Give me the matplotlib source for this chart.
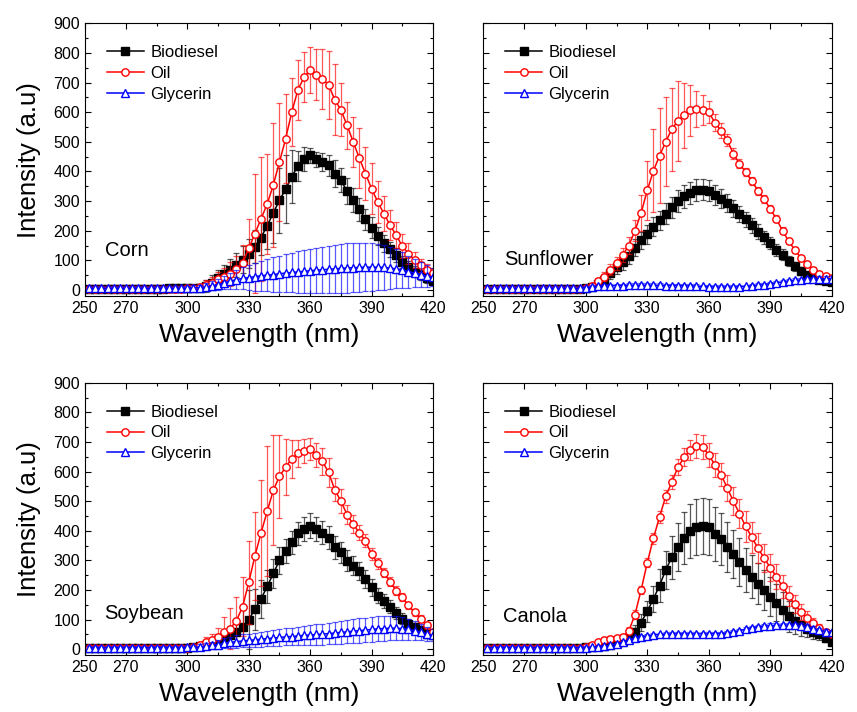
import numpy as np
import matplotlib
matplotlib.use("Agg")
import matplotlib.pyplot as plt
from matplotlib.ticker import MultipleLocator, FixedLocator

plt.rcParams["font.family"] = ["Liberation Sans", "DejaVu Sans"]

# wavelength grid (nm), one reading every 3 nm
wavelength = np.arange(252, 421, 3)

base3 = [3] * 16
base5 = [5] * 16

# ---- Corn ----
corn_bio = base3[:9] + [4, 4, 4, 4, 5, 5, 5] + [
    6, 7, 8, 14, 25, 40, 55, 68, 85, 102, 123, 146, 177, 217, 260, 303, 340, 382, 419, 441,
    455, 441, 432, 421, 393, 370, 334, 303, 272, 239, 210, 182, 157, 137, 118, 95, 79, 62, 51, 39, 30]
corn_bio_err = base5 + [
    6, 8, 12, 20, 25, 28, 30, 35, 40, 45, 50, 55, 60, 80, 100, 110, 115, 90, 50, 40,
    25, 25, 30, 35, 45, 40, 45, 40, 40, 35, 35, 30, 28, 25, 22, 20, 20, 18, 16, 15, 12]
corn_oil = [2] * 8 + [3] * 5 + [4] * 3 + [
    5, 6, 10, 17, 25, 36, 45, 55, 70, 92, 140, 190, 240, 290, 355, 432, 510, 600, 675, 718,
    743, 727, 712, 692, 642, 608, 556, 500, 445, 393, 342, 297, 258, 219, 185, 148, 123, 101, 84, 66, 56]
corn_oil_err = base5 + [
    6, 8, 10, 15, 20, 25, 30, 40, 45, 60, 100, 200, 210, 170, 210, 200, 150, 115, 100, 85,
    78, 85, 100, 115, 120, 90, 80, 85, 100, 90, 85, 70, 60, 50, 45, 40, 35, 28, 22, 20, 18]
corn_gly = [6] * 16 + [
    6, 7, 8, 10, 14, 18, 24, 30, 35, 39, 42, 45, 48, 50, 52, 55, 57, 59, 61, 63,
    65, 67, 68, 70, 71, 73, 74, 75, 76, 77, 77, 77, 76, 74, 71, 67, 62, 57, 52, 47, 43]
corn_gly_err = [8] * 16 + [
    8, 9, 10, 12, 15, 18, 22, 27, 32, 37, 42, 47, 51, 55, 58, 61, 64, 67, 70, 72,
    74, 76, 78, 80, 81, 82, 83, 83, 83, 82, 80, 78, 75, 71, 66, 60, 54, 48, 42, 36, 30]

# ---- Sunflower ----
sun_bio = base3 + [
    5, 10, 20, 35, 57, 76, 93, 115, 143, 167, 188, 214, 235, 257, 279, 299, 316, 328, 336, 338,
    335, 321, 308, 293, 275, 257, 238, 218, 197, 178, 158, 136, 119, 97, 80, 64, 50, 40, 34, 31, 28]
sun_bio_err = [4] * 16 + [
    6, 10, 15, 18, 20, 22, 25, 28, 30, 30, 32, 32, 33, 35, 35, 37, 38, 38, 37, 36,
    35, 34, 32, 30, 28, 27, 26, 25, 24, 22, 20, 20, 18, 16, 15, 14, 12, 10, 10, 9, 8]
sun_oil = [2] * 8 + [3] * 5 + [4] * 3 + [
    5, 15, 30, 45, 68, 90, 118, 150, 200, 260, 336, 402, 453, 500, 543, 571, 590, 606, 610, 608,
    600, 565, 538, 506, 460, 426, 398, 368, 335, 307, 274, 240, 200, 165, 135, 108, 86, 68, 55, 47, 42]
sun_oil_err = [4] * 16 + [
    6, 10, 12, 15, 18, 22, 25, 30, 35, 60, 100, 140, 160, 150, 140, 135, 110, 85, 60, 50,
    38, 30, 25, 20, 18, 16, 15, 14, 13, 12, 12, 12, 11, 10, 10, 9, 9, 8, 8, 8, 8]
sun_gly = [6] * 16 + [
    8, 10, 12, 13, 14, 15, 15, 16, 16, 16, 16, 16, 16, 15, 15, 15, 14, 14, 13, 12,
    11, 10, 10, 10, 10, 11, 12, 14, 16, 18, 21, 24, 27, 30, 32, 34, 36, 37, 38, 38, 38]
sun_gly_err = [6] * 16 + [6] * 30 + [7, 7, 7, 8, 8, 8, 8, 8, 8, 8, 8]

# ---- Soybean ----
soy_bio = base3 + [
    5, 7, 10, 15, 22, 32, 42, 48, 58, 75, 100, 135, 170, 212, 256, 300, 331, 361, 391, 405,
    417, 405, 394, 377, 344, 327, 299, 282, 265, 237, 209, 181, 164, 144, 122, 103, 86, 75, 64, 53, 47]
soy_bio_err = base5 + [
    6, 8, 10, 12, 15, 18, 22, 28, 35, 60, 100, 70, 65, 55, 50, 45, 40, 38, 38, 40,
    42, 40, 40, 40, 38, 35, 35, 32, 30, 30, 28, 26, 24, 22, 20, 18, 16, 15, 14, 12, 10]
soy_oil = base3 + [
    5, 8, 15, 25, 33, 42, 58, 70, 97, 144, 226, 315, 393, 466, 537, 584, 615, 643, 662, 670,
    676, 657, 634, 597, 539, 500, 455, 422, 394, 366, 321, 290, 259, 228, 198, 176, 148, 125, 103, 81, 58]
soy_oil_err = base5 + [
    6, 8, 10, 15, 20, 30, 50, 70, 80, 100, 140, 150, 180, 220, 185, 140, 95, 65, 45, 40,
    38, 40, 45, 50, 40, 40, 32, 30, 25, 22, 20, 18, 16, 15, 14, 13, 12, 12, 12, 12, 12]
soy_gly = base5 + [
    6, 7, 8, 10, 13, 16, 20, 23, 26, 28, 30, 32, 34, 36, 38, 40, 42, 43, 45, 47,
    48, 50, 51, 53, 55, 57, 59, 61, 63, 65, 67, 69, 70, 71, 71, 70, 67, 63, 58, 52, 47]
soy_gly_err = [6] * 16 + [
    7, 8, 9, 11, 13, 15, 17, 19, 21, 22, 23, 24, 25, 26, 27, 28, 29, 30, 31, 32,
    33, 34, 35, 36, 37, 38, 39, 40, 41, 42, 42, 42, 42, 41, 40, 38, 35, 32, 28, 24, 20]

# ---- Canola ----
can_bio = base3[:11] + [4, 4, 4, 5, 5] + [
    6, 8, 10, 12, 15, 20, 27, 38, 60, 90, 128, 170, 215, 268, 310, 345, 375, 400, 413, 416,
    412, 390, 372, 345, 322, 295, 268, 245, 222, 200, 178, 157, 134, 112, 95, 82, 70, 60, 50, 38, 25]
can_bio_err = [4] * 16 + [
    5, 6, 7, 8, 10, 12, 15, 18, 22, 28, 35, 45, 55, 65, 72, 80, 88, 92, 95, 95,
    95, 92, 88, 85, 82, 80, 75, 72, 70, 68, 65, 62, 58, 52, 45, 38, 30, 24, 18, 14, 10]
can_oil = base3 + [
    8, 15, 25, 32, 36, 37, 40, 62, 117, 200, 292, 375, 447, 516, 565, 615, 648, 673, 686, 683,
    656, 623, 590, 545, 500, 458, 415, 378, 342, 308, 276, 245, 212, 180, 152, 126, 106, 88, 72, 58, 50]
can_oil_err = [4] * 16 + [
    5, 6, 7, 8, 8, 8, 10, 12, 15, 15, 15, 18, 20, 22, 25, 28, 30, 35, 40, 42,
    42, 40, 40, 45, 48, 50, 52, 52, 50, 48, 45, 42, 38, 35, 30, 26, 22, 18, 15, 12, 10]
can_gly = base5 + [
    5, 6, 8, 10, 14, 18, 24, 32, 38, 42, 45, 48, 50, 51, 52, 52, 52, 52, 52, 52,
    52, 53, 53, 55, 58, 63, 68, 73, 76, 78, 80, 81, 82, 82, 82, 80, 76, 70, 65, 60, 57]
can_gly_err = base5 + [6] * 15 + [7] * 15 + [8] * 11

panels = [
    ("Corn", corn_bio, corn_bio_err, corn_oil, corn_oil_err, corn_gly, corn_gly_err, 0.058, 0.165),
    ("Sunflower", sun_bio, sun_bio_err, sun_oil, sun_oil_err, sun_gly, sun_gly_err, 0.059, 0.132),
    ("Soybean", soy_bio, soy_bio_err, soy_oil, soy_oil_err, soy_gly, soy_gly_err, 0.055, 0.154),
    ("Canola", can_bio, can_bio_err, can_oil, can_oil_err, can_gly, can_gly_err, 0.057, 0.141),
]

fig = plt.figure(figsize=(8.57, 7.12), dpi=100)
rects = [
    [85 / 857, 1 - 295.9 / 712, 348 / 857, 272.6 / 712],
    [483.3 / 857, 1 - 295.9 / 712, 348.4 / 857, 272.6 / 712],
    [85 / 857, 1 - 655.2 / 712, 348 / 857, 272.5 / 712],
    [483.3 / 857, 1 - 655.2 / 712, 348.4 / 857, 272.5 / 712],
]

series_style = [
    ("Biodiesel", "black", "s", "black"),
    ("Oil", "red", "o", "white"),
    ("Glycerin", "blue", "^", "white"),
]

for i, (name, b, be, o, oe, g, ge, tx, ty) in enumerate(panels):
    ax = fig.add_axes(rects[i])
    handles = []
    for (label, col, mk, face), y, err in zip(series_style, [b, o, g], [be, oe, ge]):
        ax.errorbar(wavelength, y, yerr=err, fmt="none", ecolor=col, elinewidth=0.9,
                    capsize=2.5, capthick=0.9, alpha=0.65)
        line, = ax.plot(wavelength, y, color=col, marker=mk, markersize=5.3,
                        markerfacecolor=face, markeredgecolor=col, markeredgewidth=1.0,
                        linewidth=1.1, label=label)
        handles.append(line)

    ax.set_xlim(250, 420)
    ax.set_ylim(-20, 900)
    ax.xaxis.set_major_locator(FixedLocator([250, 270, 300, 330, 360, 390, 420]))
    ax.xaxis.set_minor_locator(FixedLocator([285, 315, 345, 375, 405]))
    ax.yaxis.set_major_locator(MultipleLocator(100))
    ax.yaxis.set_minor_locator(MultipleLocator(50))
    ax.tick_params(which="both", direction="in", top=True, right=True, labelsize=11.5)
    ax.tick_params(which="major", length=4, width=0.8)
    ax.tick_params(which="minor", length=2.5, width=0.8)
    if i % 2 == 1:
        ax.tick_params(labelleft=False)
    else:
        ax.set_ylabel("Intensity (a.u)", fontsize=18.5, labelpad=9)
    ax.set_xlabel("Wavelength (nm)", fontsize=19, labelpad=5)

    ax.text(tx, ty, name, transform=ax.transAxes, fontsize=14.5, va="center", ha="left")
    ax.legend(handles=handles, loc="upper left", bbox_to_anchor=(0.063, 0.92),
              frameon=False, fontsize=12, handlelength=2.2, handletextpad=0.4,
              labelspacing=0.35, borderpad=0, borderaxespad=0)

fig.savefig("out.png", dpi=100)
